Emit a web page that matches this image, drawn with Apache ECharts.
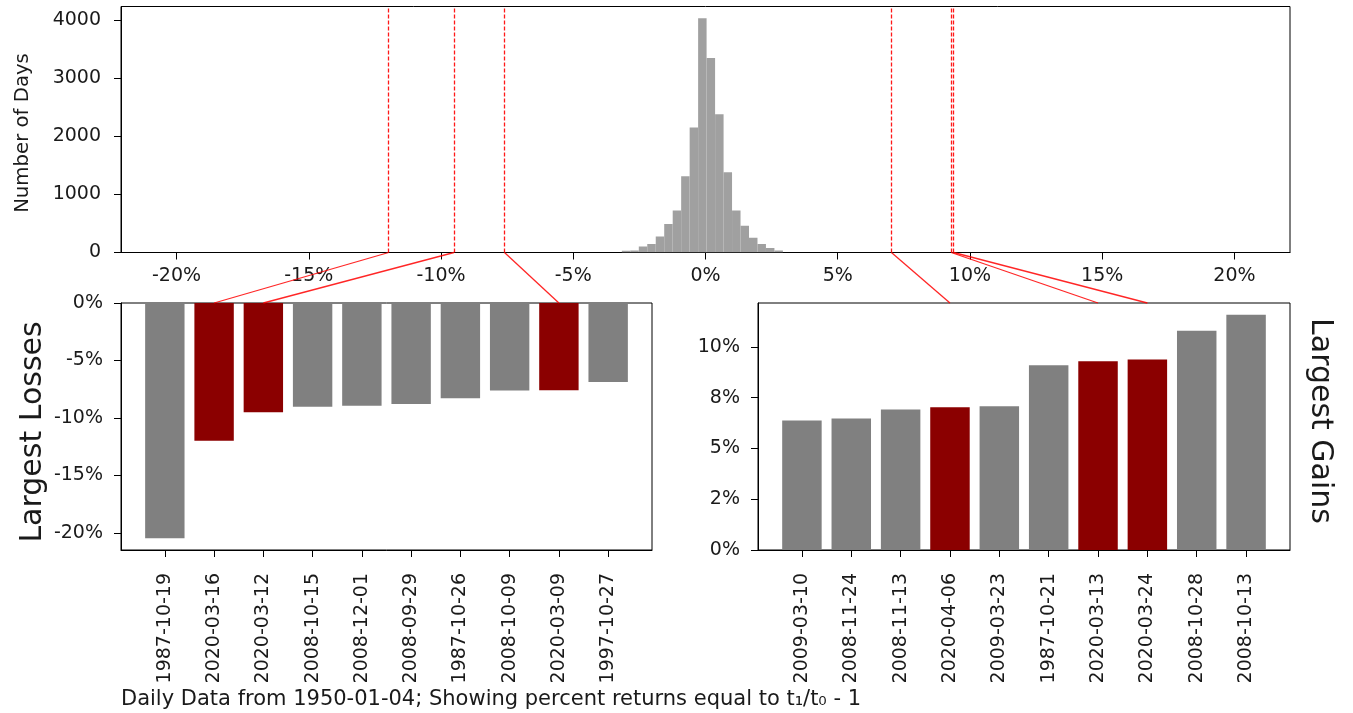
<!DOCTYPE html>
<html>
<head>
<meta charset="utf-8">
<script src="https://cdn.jsdelivr.net/npm/echarts@6/dist/echarts.min.js"></script>
<style>
  html, body { margin: 0; padding: 0; background: #fff; }
  #chart { width: 1353px; height: 713px; }
</style>
</head>
<body>
<div id="chart"></div>
<script>
// daily return histogram (percent), only the bins that are visible
const histBinLeft = [-3.163, -2.843, -2.522, -2.202, -1.881, -1.561, -1.240, -0.920, -0.599, -0.279,
  0.042, 0.363, 0.683, 1.004, 1.324, 1.645, 1.965, 2.286, 2.606];
const histBinWidth = 0.3205;
const histCounts = [30, 35, 103, 145, 276, 490, 724, 1315, 2155, 4041,
  3352, 2386, 1382, 724, 460, 255, 145, 76, 34];

const lossDates = ['1987-10-19', '2020-03-16', '2020-03-12', '2008-10-15', '2008-12-01',
  '2008-09-29', '1987-10-26', '2008-10-09', '2020-03-09', '1997-10-27'];
const lossValues = [-20.47, -11.98, -9.51, -9.03, -8.93, -8.79, -8.28, -7.62, -7.60, -6.87];

const gainDates = ['2009-03-10', '2008-11-24', '2008-11-13', '2020-04-06', '2009-03-23',
  '1987-10-21', '2020-03-13', '2020-03-24', '2008-10-28', '2008-10-13'];
const gainValues = [6.37, 6.47, 6.92, 7.03, 7.08, 9.10, 9.29, 9.38, 10.79, 11.58];

// days highlighted in dark red and marked on the histogram
const highlightDates = ['2020-03-16', '2020-03-12', '2020-03-09', '2020-04-06', '2020-03-13', '2020-03-24'];

const histXTicks = [-20, -15, -10, -5, 0, 5, 10, 15, 20];
const histYTicks = [0, 1000, 2000, 3000, 4000];
const lossTicks = [0, -5, -10, -15, -20];
const lossTickLabels = ['0%', '-5%', '-10%', '-15%', '-20%'];
const gainTicks = [0, 2.5, 5, 7.5, 10];
const gainTickLabels = ['0%', '2%', '5%', '8%', '10%'];
const barTicks = [0, 1, 2, 3, 4, 5, 6, 7, 8, 9];

const FONT = 'DejaVu Sans';
const TXT = '#1a1a1a';

const highlightValues = [];
lossDates.forEach((d, i) => { if (highlightDates.includes(d)) highlightValues.push(lossValues[i]); });
gainDates.forEach((d, i) => { if (highlightDates.includes(d)) highlightValues.push(gainValues[i]); });

function axisBase(extra) {
  return Object.assign({
    axisLine: { show: true, onZero: false, lineStyle: { color: '#000', width: 1 } },
    axisTick: { show: true, inside: false, length: 7, lineStyle: { color: '#000' } },
    splitLine: { show: false },
    axisLabel: { color: TXT, fontSize: 19, fontFamily: FONT }
  }, extra);
}

function histItem(params, api) {
  const left = api.value(0);
  const p0 = api.coord([left, api.value(1)]);
  const p1 = api.coord([left + histBinWidth, 0]);
  return {
    type: 'rect',
    shape: { x: p0[0], y: p0[1], width: p1[0] - p0[0], height: p1[1] - p0[1] },
    style: { fill: '#a0a0a0' }
  };
}

function barRenderer(dates) {
  return function (params, api) {
    const i = api.value(0);
    const p0 = api.coord([i - 0.4, 0]);
    const p1 = api.coord([i + 0.4, api.value(1)]);
    const fill = highlightDates.includes(dates[params.dataIndex]) ? '#8b0000' : '#808080';
    return {
      type: 'rect',
      shape: {
        x: Math.min(p0[0], p1[0]), y: Math.min(p0[1], p1[1]),
        width: Math.abs(p1[0] - p0[0]), height: Math.abs(p1[1] - p0[1])
      },
      style: { fill: fill }
    };
  };
}

const chart = echarts.init(document.getElementById('chart'));

const options = {
  animation: false,
  backgroundColor: '#fff',
  grid: [
    { left: 121, top: 6.5, width: 1169, height: 246, show: true, borderColor: '#000', borderWidth: 1, outerBoundsMode: 'none' },
    { left: 121, top: 303, width: 531, height: 247, show: true, borderColor: '#000', borderWidth: 1, outerBoundsMode: 'none' },
    { left: 758, top: 303, width: 532, height: 247, show: true, borderColor: '#000', borderWidth: 1, outerBoundsMode: 'none' }
  ],
  xAxis: [
    axisBase({
      type: 'value', gridIndex: 0, min: -22.1, max: 22.1,
      axisTick: { show: true, length: 7, lineStyle: { color: '#000' }, customValues: histXTicks },
      axisLabel: { color: TXT, fontSize: 19, fontFamily: FONT, margin: 14, customValues: histXTicks, formatter: v => v + '%' }
    }),
    axisBase({
      type: 'value', gridIndex: 1, min: -0.89, max: 9.89,
      axisTick: { show: true, length: 7, lineStyle: { color: '#000' }, customValues: barTicks },
      axisLabel: { color: TXT, fontSize: 19, fontFamily: FONT, margin: 23, rotate: 90, customValues: barTicks, formatter: v => lossDates[v] }
    }),
    axisBase({
      type: 'value', gridIndex: 2, min: -0.89, max: 9.89,
      axisTick: { show: true, length: 7, lineStyle: { color: '#000' }, customValues: barTicks },
      axisLabel: { color: TXT, fontSize: 19, fontFamily: FONT, margin: 23, rotate: 90, customValues: barTicks, formatter: v => gainDates[v] }
    })
  ],
  yAxis: [
    axisBase({
      type: 'value', gridIndex: 0, min: 0, max: 4242,
      axisTick: { show: true, length: 7, lineStyle: { color: '#000' }, customValues: histYTicks },
      axisLabel: { color: TXT, fontSize: 19, fontFamily: FONT, margin: 20, customValues: histYTicks, formatter: v => String(v) }
    }),
    axisBase({
      type: 'value', gridIndex: 1, min: -21.49, max: 0,
      axisTick: { show: true, length: 7, lineStyle: { color: '#000' }, customValues: lossTicks },
      axisLabel: { color: TXT, fontSize: 19, fontFamily: FONT, margin: 18, customValues: lossTicks,
        formatter: v => lossTickLabels[lossTicks.indexOf(v)] }
    }),
    axisBase({
      type: 'value', gridIndex: 2, min: 0, max: 12.16,
      axisTick: { show: true, length: 7, lineStyle: { color: '#000' }, customValues: gainTicks },
      axisLabel: { color: TXT, fontSize: 19, fontFamily: FONT, margin: 18, customValues: gainTicks,
        formatter: v => gainTickLabels[gainTicks.indexOf(v)] }
    })
  ],
  series: [
    {
      type: 'custom', name: 'hist', xAxisIndex: 0, yAxisIndex: 0, clip: true,
      renderItem: histItem,
      encode: { x: 0, y: 1 },
      data: histBinLeft.map((l, i) => [l, histCounts[i]])
    },
    {
      type: 'line', name: 'marks', xAxisIndex: 0, yAxisIndex: 0, data: [],
      markLine: {
        silent: true, symbol: 'none', label: { show: false },
        lineStyle: { color: '#ff0000', type: [4, 2], width: 1.3, opacity: 0.9 },
        data: highlightValues.map(v => ({ xAxis: v }))
      }
    },
    {
      type: 'custom', name: 'losses', xAxisIndex: 1, yAxisIndex: 1, clip: true,
      renderItem: barRenderer(lossDates),
      encode: { x: 0, y: 1 },
      data: lossValues.map((v, i) => [i, v])
    },
    {
      type: 'custom', name: 'gains', xAxisIndex: 2, yAxisIndex: 2, clip: true,
      renderItem: barRenderer(gainDates),
      encode: { x: 0, y: 1 },
      data: gainValues.map((v, i) => [i, v])
    }
  ]
};

chart.setOption(options);

// zoom lines from the histogram axis down to the top of each highlighted bar
const links = [];
function addLinks(dates, values, gridIndex, topValue) {
  dates.forEach((d, i) => {
    if (!highlightDates.includes(d)) return;
    const a = chart.convertToPixel({ gridIndex: 0 }, [values[i], 0]);
    const b = chart.convertToPixel({ gridIndex: gridIndex }, [i, topValue]);
    links.push({
      type: 'line', z: 100, silent: true,
      shape: { x1: a[0], y1: a[1], x2: b[0], y2: b[1] },
      style: { stroke: 'rgba(255,0,0,0.85)', lineWidth: 1.3 }
    });
  });
}
addLinks(lossDates, lossValues, 1, 0);
addLinks(gainDates, gainValues, 2, 12.16);

const titleStyle = (text, size) => ({ text: text, fontSize: size, fontFamily: FONT, fill: TXT, textAlign: 'center', textVerticalAlign: 'middle' });

chart.setOption({
  graphic: links.concat([
    { type: 'text', x: 23, y: 133, rotation: Math.PI / 2, style: titleStyle('Number of Days', 19.7) },
    { type: 'text', x: 33, y: 432, rotation: Math.PI / 2, style: titleStyle('Largest Losses', 30) },
    { type: 'text', x: 1320, y: 421, rotation: -Math.PI / 2, style: titleStyle('Largest Gains', 30) },
    { type: 'text', x: 121, y: 700, style: { text: 'Daily Data from 1950-01-04; Showing percent returns equal to t\u2081/t\u2080 - 1', fontSize: 21, fontFamily: FONT, fill: TXT, textAlign: 'left', textVerticalAlign: 'middle' } }
  ])
});
</script>
</body>
</html>
